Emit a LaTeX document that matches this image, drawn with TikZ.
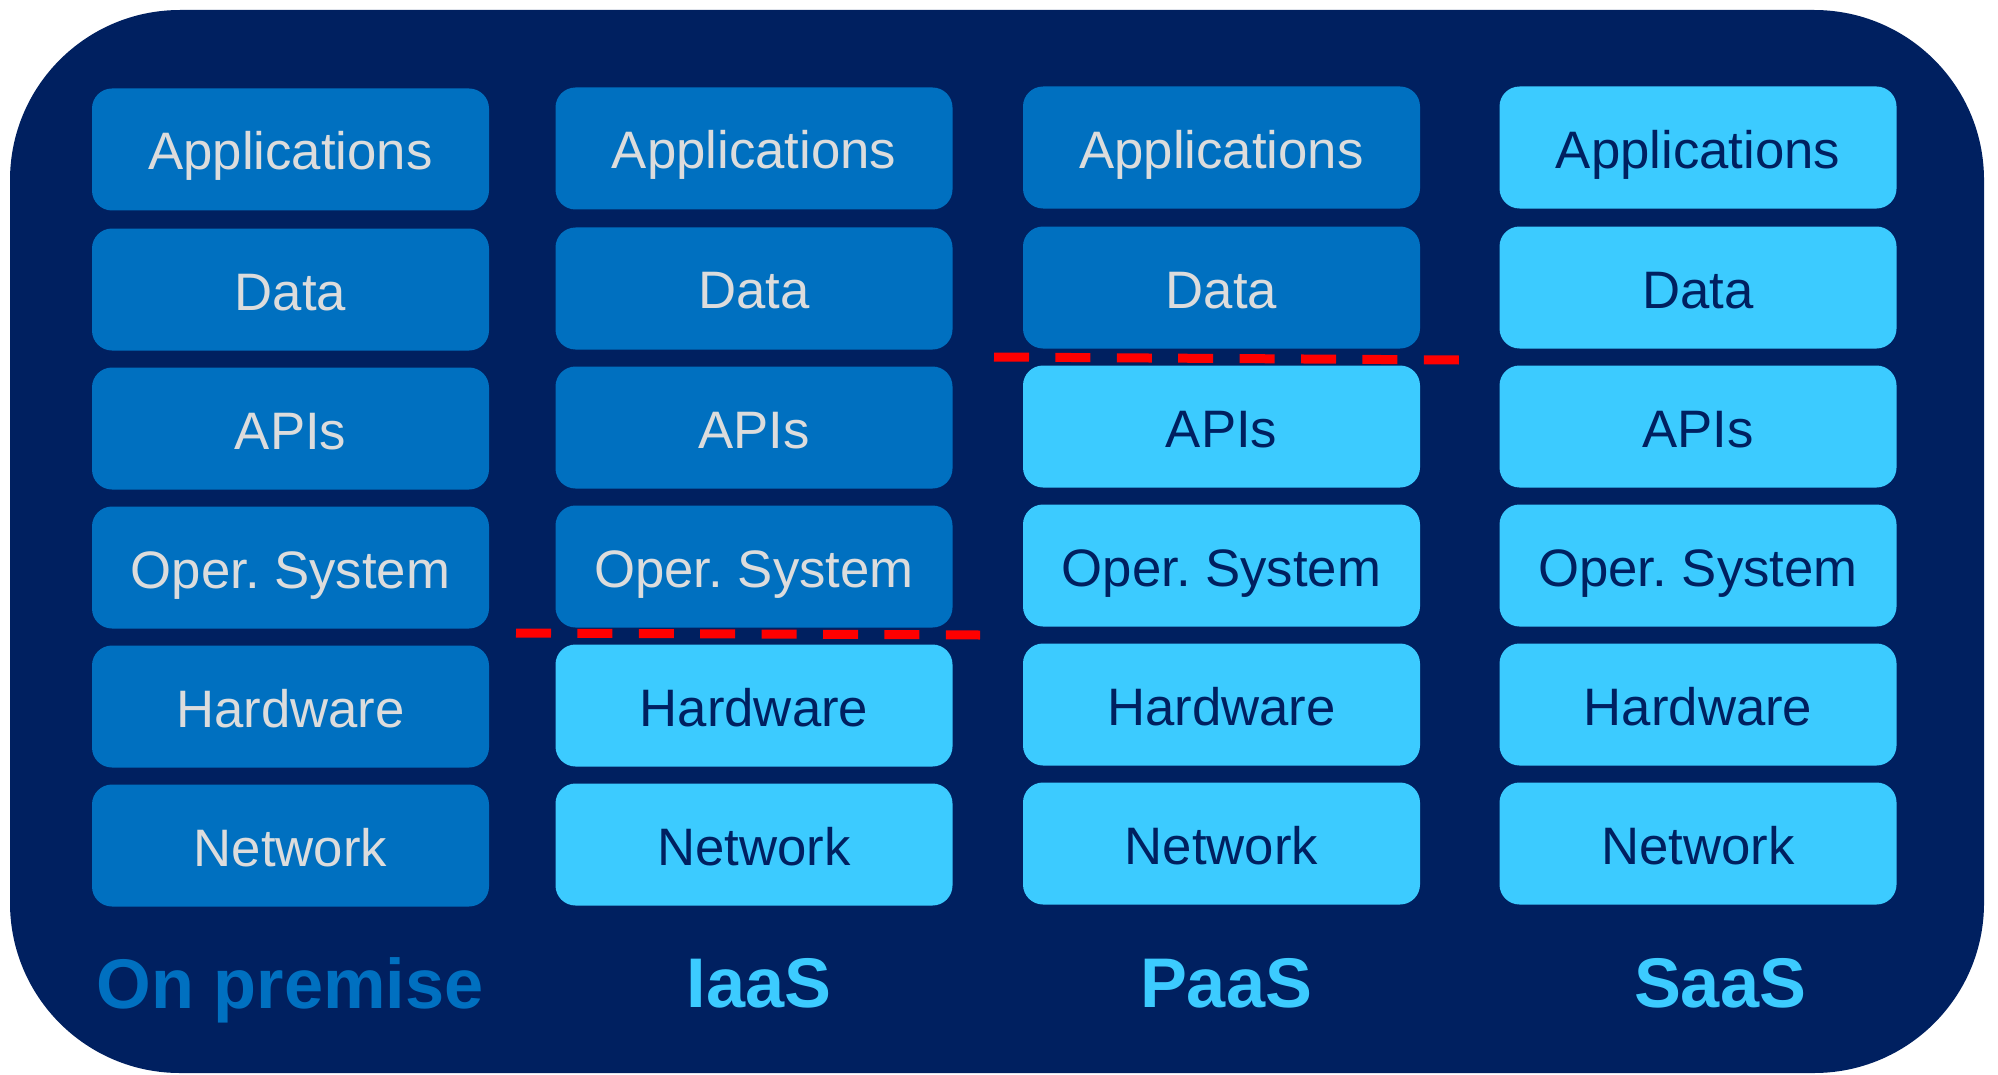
\documentclass[tikz,border=0pt]{standalone}
\usepackage{fontspec}
\setmainfont{Liberation Sans}
\frenchspacing

\definecolor{navy}{HTML}{002060}
\definecolor{ownblue}{HTML}{0070C0}
\definecolor{skyblue}{HTML}{3CCBFF}
\definecolor{boxtext}{HTML}{DCDCDC}

\tikzset{
  layer/.style={rounded corners=0.2cm, minimum width=3.97cm, minimum height=1.22cm,
    text height=0.41cm, text depth=0cm, inner sep=0pt, font=\fontsize{15}{18}\selectfont},
  own/.style={layer, fill=ownblue, text=boxtext},
  managed/.style={layer, fill=skyblue, text=navy},
  model/.style={anchor=base, font=\fontsize{20}{24}\selectfont\bfseries},
  cut/.style={red, line width=0.09cm, dash pattern=on 0.35cm off 0.264cm}
}

\begin{document}
\begin{tikzpicture}
  \useasboundingbox (0,0) rectangle (19.98,-10.74);
  \fill[navy, rounded corners=1.7cm] (0.10,-0.10) rectangle (19.84,-10.73);

  % on premise
  \node[own] (op-app) at (2.905,-1.495) {Applications};
  \node[own] (op-data) at (2.905,-2.895) {Data};
  \node[own] (op-api) at (2.905,-4.285) {APIs};
  \node[own] (op-os) at (2.905,-5.675) {Oper. System};
  \node[own] (op-hw) at (2.905,-7.065) {Hardware};
  \node[own] (op-net) at (2.905,-8.455) {Network};
  \node[model, text=ownblue] (op) at (2.90,-10.08) {On premise};

  % iaas
  \node[own] (ia-app) at (7.54,-1.485) {Applications};
  \node[own] (ia-data) at (7.54,-2.885) {Data};
  \node[own] (ia-api) at (7.54,-4.275) {APIs};
  \node[own] (ia-os) at (7.54,-5.665) {Oper. System};
  \node[managed] (ia-hw) at (7.54,-7.055) {Hardware};
  \node[managed] (ia-net) at (7.54,-8.445) {Network};
  \node[model, text=skyblue] (ia) at (7.59,-10.07) {IaaS};

  % paas
  \node[own] (pa-app) at (12.215,-1.475) {Applications};
  \node[own] (pa-data) at (12.215,-2.875) {Data};
  \node[managed] (pa-api) at (12.215,-4.265) {APIs};
  \node[managed] (pa-os) at (12.215,-5.655) {Oper. System};
  \node[managed] (pa-hw) at (12.215,-7.045) {Hardware};
  \node[managed] (pa-net) at (12.215,-8.435) {Network};
  \node[model, text=skyblue] (pa) at (12.26,-10.07) {PaaS};

  % saas
  \node[managed] (sa-app) at (16.98,-1.475) {Applications};
  \node[managed] (sa-data) at (16.98,-2.875) {Data};
  \node[managed] (sa-api) at (16.98,-4.265) {APIs};
  \node[managed] (sa-os) at (16.98,-5.655) {Oper. System};
  \node[managed] (sa-hw) at (16.98,-7.045) {Hardware};
  \node[managed] (sa-net) at (16.98,-8.435) {Network};
  \node[model, text=skyblue] (sa) at (17.20,-10.07) {SaaS};

  % responsibility cuts
  \coordinate (ia-cutL) at (5.16,-6.33);
  \coordinate (ia-cutR) at (9.80,-6.35);
  \coordinate (pa-cutL) at (9.94,-3.57);
  \coordinate (pa-cutR) at (14.59,-3.60);
  \draw[cut] (ia-cutL) -- (ia-cutR);
  \draw[cut] (pa-cutL) -- (pa-cutR);
\end{tikzpicture}
\end{document}
